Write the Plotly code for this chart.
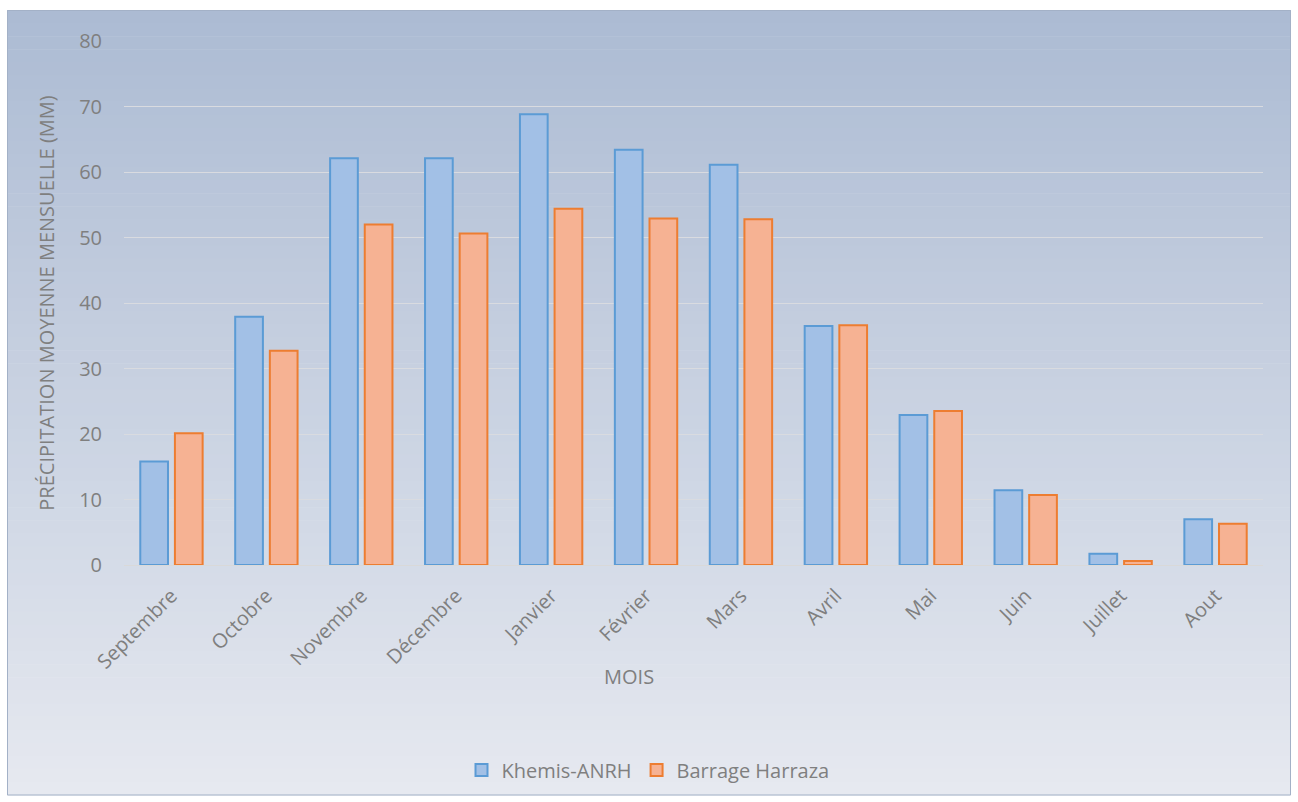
import plotly.graph_objects as go

mois = ["Septembre", "Octobre", "Novembre", "Décembre", "Janvier", "Février",
        "Mars", "Avril", "Mai", "Juin", "Juillet", "Aout"]
khemis = [15.8, 37.9, 62.1, 62.1, 68.8, 63.4, 61.1, 36.5, 22.9, 11.4, 1.7, 7.0]
harraza = [20.1, 32.7, 52.0, 50.6, 54.4, 52.9, 52.8, 36.6, 23.5, 10.7, 0.6, 6.3]

W, H = 1298, 802
L, R, T, B = 124, 1263, 41, 565  # plot area in pixels


def px_x(p):
    return (p - L) / (R - L)


def px_y(p):
    return (B - p) / (B - T)


fig = go.Figure()
fig.add_trace(go.Bar(
    x=mois, y=khemis, name="Khemis-ANRH",
    marker=dict(color="#a2c0e6", line=dict(color="#5b9bd5", width=2)),
))
fig.add_trace(go.Bar(
    x=mois, y=harraza, name="Barrage Harraza",
    marker=dict(color="#f6b293", line=dict(color="#ed7d31", width=2)),
))

# background gradient of chart area
shapes = []
top_c = (172, 187, 211)
bot_c = (230, 233, 240)
y0p, y1p = 10, 795
N = 60
for i in range(N):
    a = y0p + (y1p - y0p) * i / N
    b = y0p + (y1p - y0p) * (i + 1) / N + 0.6
    t = (i + 0.5) / N
    c = tuple(int(round(top_c[k] + (bot_c[k] - top_c[k]) * t)) for k in range(3))
    shapes.append(dict(type="rect", xref="paper", yref="paper", layer="below",
                       x0=px_x(7), x1=px_x(1291), y0=px_y(b), y1=px_y(a),
                       fillcolor="rgb(%d,%d,%d)" % c, line=dict(width=0)))
shapes.append(dict(type="rect", xref="paper", yref="paper", layer="above",
                   x0=px_x(7.5), x1=px_x(1290.5), y0=px_y(795), y1=px_y(10.5),
                   fillcolor="rgba(0,0,0,0)", line=dict(color="#a3b1c7", width=1)))

fig.update_layout(
    width=W, height=H,
    margin=dict(l=L, r=W - R, t=T, b=H - B),
    paper_bgcolor="white", plot_bgcolor="rgba(0,0,0,0)",
    font=dict(family="Open Sans, Lato, sans-serif", color="#7f7f7f", size=20),
    barmode="group", bargap=0.27, bargroupgap=0.2,
    shapes=shapes,
    showlegend=True,
    legend=dict(orientation="h", x=px_x(648), xanchor="center", y=px_y(770), yanchor="middle",
                font=dict(size=20, color="#7f7f7f"), bgcolor="rgba(0,0,0,0)",
                itemwidth=30, tracegroupgap=0),
    annotations=[dict(text="MOIS", xref="paper", yref="paper", x=px_x(629), y=px_y(676),
                      xanchor="center", yanchor="middle",
                      showarrow=False, font=dict(size=20, color="#7f7f7f"))],
)
fig.update_yaxes(range=[0, 80], dtick=10, showgrid=True, gridcolor="#d9dbe0", gridwidth=1.3,
                 zeroline=False, showline=False, ticks="", ticklabelstandoff=21,
                 tickfont=dict(size=20, color="#7f7f7f"),
                 title=dict(text="PRÉCIPITATION MOYENNE MENSUELLE (MM)", standoff=19,
                            font=dict(size=20, color="#7f7f7f")))
fig.update_xaxes(showline=True, linecolor="#d9d9d9", linewidth=1.3, ticks="",
                 tickangle=-45, tickfont=dict(size=20, color="#7f7f7f"),
                 ticklabelstandoff=10)

fig.write_html("out.html")
